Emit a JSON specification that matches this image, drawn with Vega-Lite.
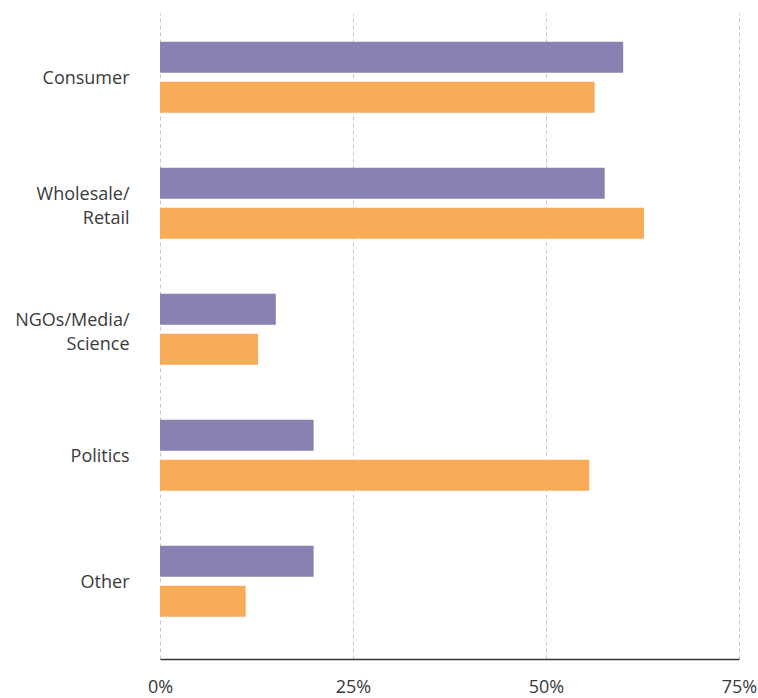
{
  "$schema": "https://vega.github.io/schema/vega-lite/v6.json",
  "autosize": {"type": "none"},
  "padding": {"left": 160, "top": 13, "right": 19, "bottom": 39},
  "width": 579,
  "height": 646,
  "background": "white",
  "config": {"view": {"stroke": null}, "font": "Open Sans"},
  "data": {"values": [
    {"category": "Consumer", "series": "Series 1", "value": 60.0},
    {"category": "Consumer", "series": "Series 2", "value": 56.3},
    {"category": "Wholesale/\nRetail", "series": "Series 1", "value": 57.6},
    {"category": "Wholesale/\nRetail", "series": "Series 2", "value": 62.7},
    {"category": "NGOs/Media/\nScience", "series": "Series 1", "value": 15.0},
    {"category": "NGOs/Media/\nScience", "series": "Series 2", "value": 12.7},
    {"category": "Politics", "series": "Series 1", "value": 19.9},
    {"category": "Politics", "series": "Series 2", "value": 55.6},
    {"category": "Other", "series": "Series 1", "value": 19.9},
    {"category": "Other", "series": "Series 2", "value": 11.1}
  ]},
  "mark": {"type": "bar"},
  "encoding": {
    "y": {
      "field": "category", "type": "nominal", "sort": null,
      "scale": {"paddingInner": 0.437, "paddingOuter": 0.282, "align": 0.406},
      "axis": {"title": null, "ticks": false, "domain": false, "labelFontSize": 18, "labelColor": "#3a3a3a", "labelPadding": 31, "labelLineHeight": 24, "labelExpr": "split(datum.label, '\\n')", "labelFont": "Open Sans",
        "labelOffset": {"condition": {"test": "indexof(datum.value, '\\n') >= 0", "value": -8}, "value": 2}}
    },
    "yOffset": {"field": "series", "type": "nominal", "scale": {"paddingInner": 0.225, "paddingOuter": 0}},
    "x": {
      "field": "value", "type": "quantitative",
      "scale": {"domain": [0, 75], "nice": false},
      "axis": {"title": null, "values": [0, 25, 50, 75], "labelExpr": "datum.value + '%'", "ticks": false, "domain": true, "domainColor": "#333333", "domainWidth": 1.5, "grid": true, "gridColor": "#c8c8c8", "gridDash": [4, 3], "gridWidth": 1, "labelFontSize": 18, "labelColor": "#3a3a3a", "labelPadding": 19, "labelFont": "Open Sans", "labelFlush": false}
    },
    "color": {"field": "series", "type": "nominal", "scale": {"range": ["#8981b1", "#f9ac57"]}, "legend": null}
  }
}
